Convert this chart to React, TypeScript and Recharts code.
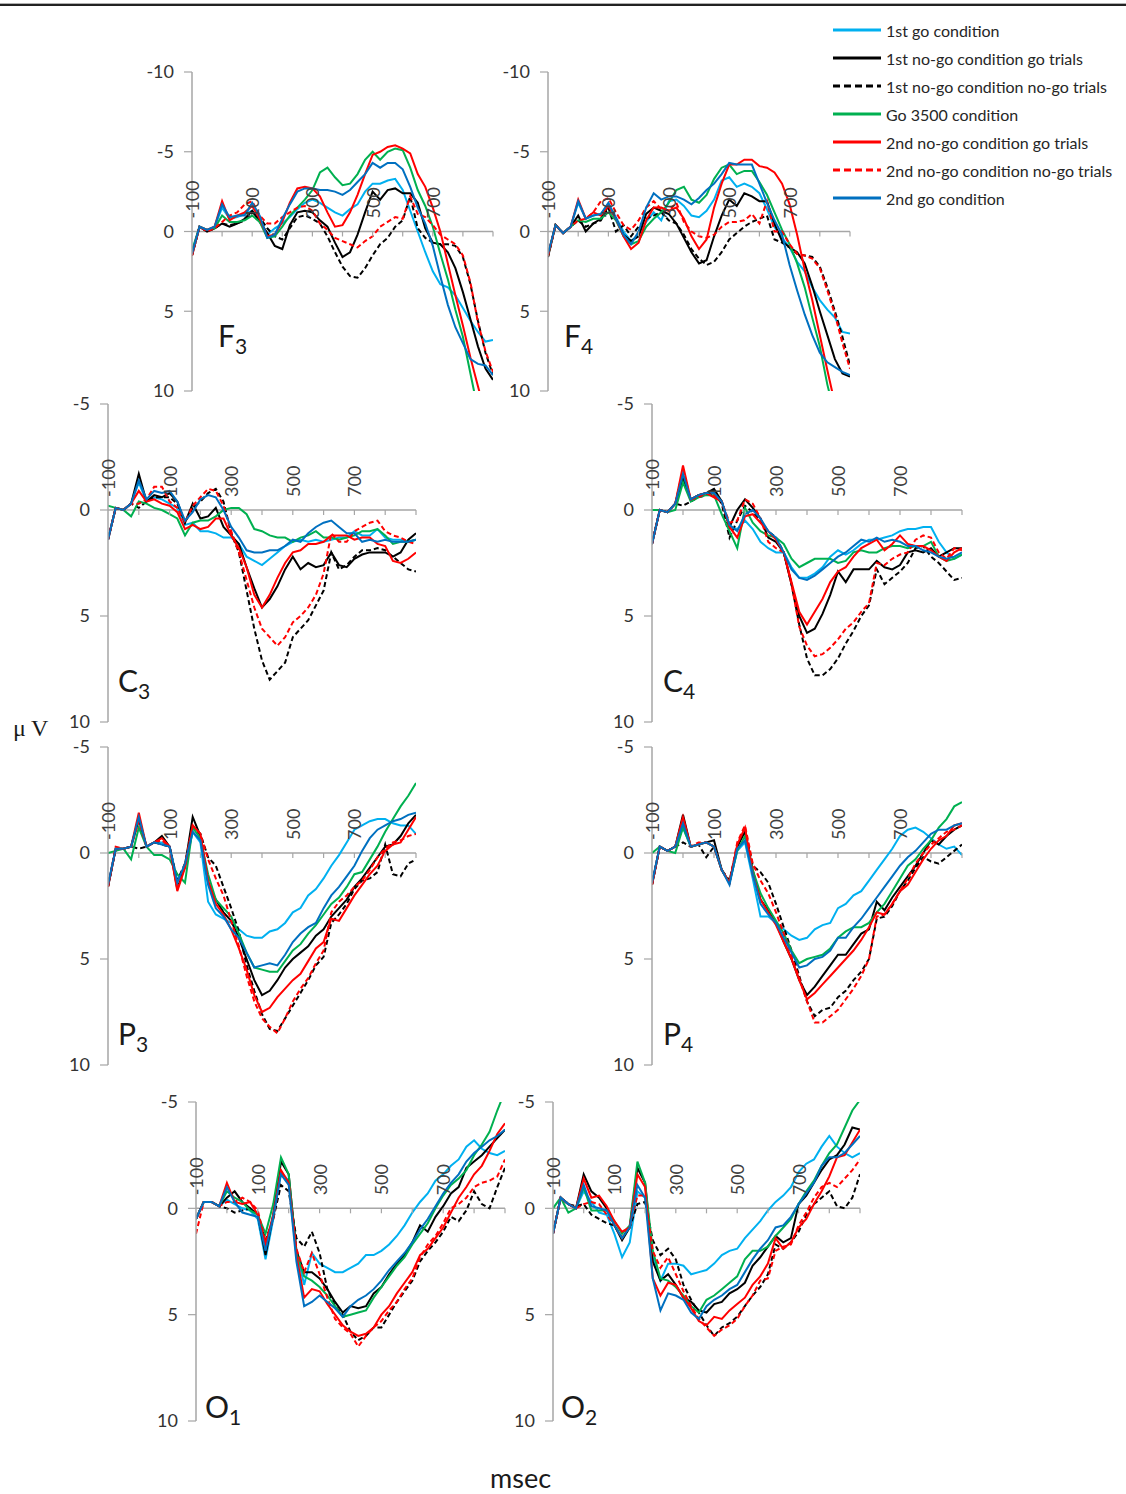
import React from 'react';
import { LineChart, Line, XAxis, YAxis, ReferenceLine, ReferenceDot } from 'recharts';

// time axis (ms)
const TIMES = [-100,-75,-50,-25,0,25,50,75,100,125,150,175,200,225,250,275,300,325,350,375,400,425,450,475,500,525,550,575,600,625,650,675,700,725,750,775,800,825,850,875,900];
const X_LABELS = [-100, 100, 300, 500, 700];
const X_MINOR = [0, 100, 200, 300, 400, 500, 600, 700, 800, 900];

const SERIES = [
  { key: 'go1', name: '1st go condition', color: '#00B0F0', dash: undefined },
  { key: 'ng1go', name: '1st no-go condition go trials', color: '#000000', dash: undefined },
  { key: 'ng1ng', name: '1st no-go condition no-go trials', color: '#000000', dash: '5 3' },
  { key: 'go3500', name: 'Go 3500 condition', color: '#00B050', dash: undefined },
  { key: 'ng2go', name: '2nd no-go condition go trials', color: '#FF0000', dash: undefined },
  { key: 'ng2ng', name: '2nd no-go condition no-go trials', color: '#FF0000', dash: '5 3' },
  { key: 'go2', name: '2nd go condition', color: '#0070C0', dash: undefined },
];

// ---------- F3 ----------
const F3_GO1 = [1.3,-0.3,-0.1,-0.3,-1.5,-0.8,-0.9,-1.1,-1.3,-0.8,0.2,-0.2,-0.5,-0.9,-1.4, -1.8,-2.0,-1.8,-1.5,-1.2,-1.0,-1.4,-1.7,-2.5,-3.0,-3.0,-3.2,-3.3, -2.6,-1.3,0.0,1.3,2.5,3.3,3.5,4.0,4.8,5.6,6.3,6.9,6.8];
const F3_NG1GO = [1.5,-0.3,0.0,-0.2,-0.5,-0.3,-0.5,-0.8,-1.3,-0.6,0.1,0.9,1.1,-0.4,-1.2, -1.3,-1.2,-0.7,-0.3,0.7,1.6,1.3,0.2,-1.2,-2.5,-2.0,-2.6,-2.7, -2.4,-2.4,-1.8,-0.2,0.7,0.8,1.3,2.3,3.8,5.5,7.2,8.6,9.3];
const F3_NG1NG = [1.5,-0.3,0.0,-0.2,-0.5,-0.4,-0.5,-0.7,-1.2,-0.9,-0.2,0.3,0.5,-0.2,-0.9, -1.0,-0.8,-0.5,0.3,1.3,2.2,2.8,2.9,2.3,1.5,0.8,0.4,-0.3, -0.7,-2.2,-0.2,0.4,0.7,0.8,0.8,0.9,1.6,3.3,5.6,7.6,9.0];
const F3_GO3500 = [1.2,-0.3,-0.1,-0.2,-1.0,-0.6,-0.6,-0.7,-1.0,-0.6,0.4,0.3,-0.3,-1.0,-1.5, -2.0,-2.6,-3.7,-4.0,-3.4,-2.9,-3.0,-3.6,-4.5,-5.0,-4.5,-5.0,-5.2, -5.1,-4.0,-2.6,-1.6,-0.3,1.4,3.0,4.9,6.6,8.9,11.2,null,null];
const F3_NG2GO = [1.5,-0.3,-0.1,-0.3,-1.9,-0.7,-1.0,-1.2,-1.6,-0.8,0.3,0.2,-0.6,-1.8,-2.7, -2.8,-2.7,-2.2,-1.2,-0.3,-0.4,-1.2,-2.3,-3.6,-4.8,-5.0,-5.3,-5.4, -5.2,-4.9,-3.6,-2.8,-1.5,0.0,2.0,4.0,5.9,7.9,9.7,11.5,null];
const F3_NG2NG = [1.5,-0.3,0.0,-0.2,-0.6,-1.0,-1.2,-1.7,-1.9,-1.0,-0.5,-0.5,-0.9,-1.2,-1.5, -1.6,-1.3,-0.5,-0.1,0.4,0.6,0.8,1.0,0.6,0.3,-0.3,-0.6,-0.9, -0.8,-2.2,-1.1,-0.9,-0.4,0.2,0.5,0.8,1.5,3.2,5.7,7.5,8.8];
const F3_GO2 = [1.4,-0.3,-0.1,-0.3,-1.7,-0.9,-1.0,-1.0,-1.8,-1.0,0.4,0.2,-0.8,-1.7,-2.5, -2.7,-2.7,-2.6,-2.6,-2.5,-2.3,-2.6,-3.1,-3.6,-4.3,-4.0,-4.3,-4.3, -3.9,-2.8,-1.5,-0.5,0.9,2.8,4.6,6.0,7.0,8.0,8.3,8.4,9.0];

// ---------- F4 ----------
const F4_GO1 = [1.5,-0.4,0.1,-0.3,-1.8,-0.8,-1.0,-1.1,-1.7,-0.9,0.0,0.6,0.2,-0.6,-1.2, -0.7,-1.9,-2.0,-1.6,-1.0,-0.9,-1.3,-2.0,-3.2,-3.4,-2.8,-3.0,-2.8, -2.4,-1.4,-0.3,0.4,1.0,1.9,2.5,3.5,4.3,4.9,5.4,6.3,6.4];
const F4_NG1GO = [1.6,-0.4,0.1,-0.3,-1.0,0.0,-0.5,-0.8,-1.6,-0.8,0.2,0.6,0.3,-1.1,-1.5, -1.3,-1.1,-0.5,0.4,1.3,2.0,1.8,0.3,-1.0,-2.0,-1.6,-2.4,-2.2, -1.9,-1.9,-0.5,0.6,1.0,1.3,2.0,3.4,5.0,6.5,8.0,8.9,9.1];
const F4_NG1NG = [1.6,-0.4,0.1,-0.3,-0.7,-0.3,-0.5,-0.7,-1.5,0.0,-0.4,0.3,-0.3,-0.8,-1.0, -1.2,-0.7,-0.5,0.2,1.1,1.7,2.1,1.9,1.3,0.5,0.1,-0.3,-0.6, -0.8,-1.0,0.5,0.7,1.0,1.4,1.5,1.6,2.2,3.5,5.0,6.6,8.4];
const F4_GO3500 = [1.5,-0.4,0.1,-0.3,-0.7,-0.6,-0.8,-0.8,-1.2,-0.7,0.3,0.8,0.6,-0.3,-0.8, -1.2,-1.8,-2.6,-2.8,-2.0,-1.8,-2.3,-3.3,-4.0,-4.2,-3.6,-3.8,-3.8, -3.1,-2.3,-1.2,-0.1,0.8,2.0,3.5,5.4,7.2,9.6,11.5,null,null];
const F4_NG2GO = [1.5,-0.4,0.1,-0.3,-2.0,-0.8,-1.2,-1.0,-1.6,-0.8,0.3,1.1,0.7,-0.7,-1.5, -1.5,-1.3,-1.5,-0.8,0.3,1.1,0.5,-1.5,-3.0,-4.2,-4.2,-4.5,-4.5, -4.1,-4.0,-3.7,-3.0,-1.7,0.2,2.4,4.3,6.5,8.7,10.8,null,null];
const F4_NG2NG = [1.5,-0.4,0.1,-0.3,-0.7,-0.8,-1.2,-1.9,-2.1,-1.2,-0.4,-0.1,-0.7,-1.5,-1.9, -1.4,-1.3,-1.8,-0.6,0.0,0.3,0.4,0.2,-0.3,-0.6,-0.6,-0.7,-1.1, -0.5,-1.9,0.0,0.0,0.8,1.4,1.5,1.7,2.3,3.7,5.2,7.0,8.6];
const F4_GO2 = [1.4,-0.4,0.1,-0.3,-1.9,-0.8,-1.0,-1.1,-1.8,-0.8,0.2,0.8,0.0,-1.5,-2.4, -2.0,-2.2,-2.2,-2.0,-1.7,-2.1,-2.6,-3.0,-3.6,-4.3,-4.2,-4.2,-4.2, -3.0,-1.8,-0.7,0.2,2.1,3.7,5.2,6.5,7.6,8.2,8.5,8.8,9.0];

// ---------- C3 ----------
const C3_GO1 = [1.4,-0.1,0.0,-0.3,-1.3,-0.4,-0.6,-0.5,-0.3,-0.1,0.7,0.6,1.0,1.0,1.1, 1.3,1.3,1.6,2.2,2.4,2.6,2.3,2.0,1.7,1.5,1.4,1.5,1.4, 1.5,1.4,1.3,1.3,1.0,1.2,1.2,0.9,1.3,1.4,1.4,1.5,1.4];
const C3_NG1GO = [1.4,-0.1,0.0,-0.3,-1.7,-0.4,-0.7,-0.6,-0.8,-0.4,0.6,-0.3,0.4,0.3,-0.1, 0.8,1.2,1.6,2.7,3.7,4.6,4.2,3.6,2.8,2.2,2.8,2.5,2.7, 2.6,2.0,2.6,2.7,2.3,2.1,2.0,2.0,2.0,2.2,2.0,1.4,1.1];
const C3_NG1NG = [1.4,-0.1,0.0,-0.3,-0.1,-0.4,-0.6,-0.6,-0.6,-0.3,0.6,-0.1,-0.4,-0.8,-1.0, -0.4,1.1,2.0,3.8,5.6,7.1,8.0,7.6,7.2,6.0,5.6,5.2,4.5, 3.8,2.0,2.8,2.6,2.2,1.9,1.9,1.8,1.9,2.2,2.5,2.8,2.9];
const C3_GO3500 = [-0.2,-0.1,0.0,0.3,-0.4,-0.3,-0.1,0.0,0.2,0.4,1.2,0.6,0.5,0.5,0.3, 0.0,-0.1,-0.1,0.2,0.9,1.0,1.2,1.3,1.3,1.5,1.3,1.2,1.0, 1.3,1.3,1.4,1.3,1.2,1.0,1.0,0.9,1.2,1.6,1.5,1.5,1.4];
const C3_NG2GO = [1.4,-0.1,0.0,-0.3,-0.9,-0.4,-0.5,-0.3,-0.2,0.1,0.9,0.7,0.9,0.8,0.4, 0.4,1.2,1.8,2.7,4.0,4.6,4.0,3.2,2.5,2.0,1.9,1.6,1.6, 1.5,1.2,1.2,1.2,1.4,1.3,1.3,1.6,1.7,2.4,2.5,2.3,2.0];
const C3_NG2NG = [1.4,-0.1,0.0,-0.3,-0.3,-0.5,-1.1,-1.1,-0.4,-0.1,0.6,-0.2,-0.6,-1.0,-0.9, -0.2,1.0,2.0,3.3,4.6,5.6,6.0,6.4,6.0,5.3,5.0,4.6,4.0, 3.0,1.1,1.5,1.5,1.0,0.8,0.6,0.5,1.0,1.2,1.3,1.5,1.6];
const C3_GO2 = [1.4,-0.1,0.0,-0.3,-1.4,-0.5,-0.9,-0.8,-0.9,-0.4,0.5,0.1,-0.5,-0.7,-0.6, 0.0,0.8,1.3,1.9,2.0,2.0,1.9,1.9,1.7,1.4,1.5,1.1,0.8, 0.6,0.5,0.8,1.1,1.1,1.5,1.4,1.5,1.4,1.5,1.5,1.5,1.4];

// ---------- C4 ----------
const C4_GO1 = [1.6,0.0,0.1,-0.3,-1.5,-0.5,-0.7,-0.8,-0.8,-0.4,0.8,0.9,0.5,0.9,1.5, 1.8,2.0,2.0,2.7,3.2,3.2,3.0,2.7,2.2,1.9,2.1,1.9,1.6, 1.4,1.4,1.3,1.2,1.0,0.9,0.9,0.8,0.8,1.5,2.0,2.3,2.1];
const C4_NG1GO = [1.6,0.0,0.1,-0.3,-1.5,-0.5,-0.7,-0.8,-1.0,-0.4,0.8,0.0,-0.5,-0.1,0.4, 1.3,1.5,2.0,3.5,5.0,5.8,5.6,4.9,4.0,2.9,3.4,2.8,2.8, 2.8,2.4,2.7,2.8,2.6,2.0,1.9,2.0,1.8,2.2,2.0,1.8,1.8];
const C4_NG1NG = [1.6,0.0,0.1,-0.3,-0.2,-0.4,-0.6,-0.7,-0.8,-0.3,1.3,0.5,-0.2,0.1,0.5, 1.0,1.3,2.0,3.5,5.4,7.0,7.8,7.8,7.5,7.0,6.3,5.7,5.0, 4.5,2.8,3.5,3.2,2.9,2.5,1.8,1.7,2.2,2.5,2.9,3.3,3.2];
const C4_GO3500 = [0.0,0.0,0.1,0.0,-1.3,-0.4,-0.6,-0.7,-0.7,0.2,1.0,1.8,-0.1,0.6,1.0, 1.2,1.3,1.6,2.3,2.7,2.5,2.3,2.3,2.3,2.5,2.4,2.0,1.9, 2.0,2.0,1.8,1.7,1.7,1.8,1.7,1.7,1.5,2.2,2.4,2.3,2.1];
const C4_NG2GO = [1.6,0.0,0.1,-0.3,-2.1,-0.5,-0.7,-0.8,-0.6,-0.4,0.8,1.3,0.3,0.2,0.6, 1.0,1.4,2.0,3.4,4.8,5.4,4.8,4.2,3.4,2.9,2.7,2.2,1.8, 1.6,1.4,1.9,1.6,1.2,1.6,1.7,1.7,1.9,2.2,2.4,2.0,1.8];
const C4_NG2NG = [1.6,0.0,0.1,-0.3,-1.9,-0.5,-0.6,-0.8,-0.7,-0.4,0.6,0.5,-0.5,-0.3,0.4, 1.5,1.8,2.0,3.5,5.5,6.4,6.9,6.8,6.5,6.1,5.6,5.3,4.8, 4.4,2.5,2.6,2.3,2.1,2.0,1.4,1.2,1.3,2.0,2.3,1.8,1.9];
const C4_GO2 = [1.6,0.0,0.1,-0.3,-1.7,-0.5,-0.7,-0.8,-0.8,-0.4,0.7,1.0,0.2,0.0,0.4, 1.0,1.3,2.0,2.8,3.2,3.3,3.1,2.8,2.5,2.2,2.0,1.7,1.4, 1.5,1.3,1.5,1.4,1.5,1.7,1.7,1.9,2.0,2.2,2.3,2.2,2.0];

// ---------- P3 ----------
const P3_GO1 = [1.6,-0.2,-0.2,-0.3,-1.6,-0.3,-0.5,-0.5,-0.3,1.3,0.7,-1.0,-0.5,2.3,2.9, 3.1,3.3,3.6,3.9,4.0,4.0,3.7,3.6,3.3,2.8,2.6,2.0,1.7, 1.2,0.6,0.1,-0.5,-1.1,-1.3,-1.5,-1.6,-1.6,-1.4,-1.3,-1.3,-0.9];
const P3_NG1GO = [1.6,-0.2,-0.2,-0.3,-1.6,-0.3,-0.5,-0.8,-0.3,1.7,0.6,-1.7,-0.8,1.4,2.2, 2.8,3.2,4.0,5.0,6.0,6.7,6.5,6.0,5.4,5.0,4.7,4.4,3.9, 3.6,3.0,2.6,2.2,1.6,1.2,0.7,0.2,-0.3,-0.4,-0.8,-1.4,-1.8];
const P3_NG1NG = [1.6,-0.2,-0.2,-0.3,-0.2,-0.3,-0.5,-0.4,-0.3,1.3,0.5,-1.2,-0.9,0.2,0.6, 1.6,2.6,3.7,5.3,6.5,7.6,8.3,8.4,7.8,7.2,6.6,6.0,5.3, 4.9,3.3,2.9,2.4,1.7,1.3,1.2,0.9,-0.4,1.0,1.1,0.5,0.3];
const P3_GO3500 = [0.0,-0.1,-0.2,0.3,-1.2,-0.3,0.1,0.1,0.3,1.0,1.4,-1.2,-0.7,1.0,2.2, 2.6,3.0,3.8,4.7,5.4,5.5,5.6,5.6,5.1,4.6,4.3,3.8,3.4, 2.9,2.4,2.1,1.6,1.0,0.9,0.3,-0.3,-1.0,-1.6,-2.2,-2.7,-3.3];
const P3_NG2GO = [1.6,-0.2,-0.2,-0.3,-1.9,-0.3,-0.5,-0.7,-0.3,1.8,0.7,-1.3,-0.9,1.3,2.4, 2.9,3.6,4.5,5.5,6.7,7.5,7.3,6.8,6.4,6.0,5.7,5.1,4.5, 4.2,3.1,3.2,2.6,2.0,1.5,1.0,0.6,-0.1,-0.4,-0.5,-1.1,-1.7];
const P3_NG2NG = [1.6,-0.3,-0.2,-0.3,-1.5,-0.3,-0.5,-0.6,-0.3,1.6,0.5,-1.3,-0.9,0.3,1.2, 2.0,3.2,4.4,5.8,7.0,7.8,8.2,8.5,7.8,7.0,6.4,5.9,5.2, 4.6,2.8,2.3,2.0,1.6,1.3,0.8,0.2,-0.2,-0.5,-0.6,-0.8,-0.9];
const P3_GO2 = [1.5,-0.2,-0.2,-0.3,-1.7,-0.3,-0.5,-0.4,-0.3,1.4,0.5,-1.0,-0.6,1.5,2.6, 3.0,3.6,4.0,4.7,5.4,5.3,5.2,5.3,4.8,4.2,3.8,3.5,3.3, 2.6,2.0,1.6,1.1,0.6,-0.1,-0.7,-1.1,-1.3,-1.5,-1.6,-1.8,-1.9];

// ---------- P4 ----------
const P4_GO1 = [1.5,-0.3,-0.1,-0.3,-1.2,-0.3,-0.4,-0.5,-0.3,0.8,1.4,-0.1,-0.5,1.2,3.0, 3.0,3.3,3.6,3.9,4.1,4.0,3.6,3.4,3.3,2.6,2.4,2.0,1.8, 1.3,0.8,0.3,-0.2,-0.8,-1.1,-1.2,-1.0,-0.7,-0.4,-0.2,-0.3,0.1];
const P4_NG1GO = [1.5,-0.3,-0.1,-0.3,-1.8,-0.3,-0.4,-0.5,-0.6,0.8,1.4,-0.3,-1.0,0.8,2.2, 2.7,3.3,4.2,5.0,6.0,6.7,6.3,5.8,5.3,4.8,4.8,4.3,3.8, 3.6,2.3,2.7,2.1,1.6,1.1,0.6,0.0,-0.6,-0.4,-0.8,-1.1,-1.3];
const P4_NG1NG = [1.5,-0.3,-0.1,-0.3,-0.5,-0.3,-0.4,0.2,-0.3,0.8,1.3,-0.3,-1.1,0.6,0.9, 1.4,2.4,3.5,4.6,5.8,7.0,7.7,7.4,7.3,6.8,6.5,6.0,5.6, 5.0,3.1,3.0,2.5,1.8,1.3,0.7,0.2,0.4,0.5,0.2,-0.1,-0.4];
const P4_GO3500 = [0.0,-0.3,-0.1,0.0,-1.2,-0.3,-0.4,-0.5,-0.3,0.8,1.4,-0.1,-0.8,0.8,1.9, 2.6,3.2,3.8,4.6,5.2,5.0,4.9,4.8,4.5,4.0,3.7,3.5,3.5, 3.3,2.8,2.4,1.8,1.2,0.6,0.3,-0.2,-0.6,-1.2,-1.6,-2.2,-2.4];
const P4_NG2GO = [1.5,-0.3,-0.1,-0.3,-1.7,-0.3,-0.4,-0.5,-0.3,0.8,1.4,-0.4,-1.2,1.0,2.2, 2.8,3.4,4.2,5.0,6.0,6.9,6.6,6.2,5.8,5.4,5.0,4.6,4.1, 3.5,2.8,2.9,2.4,1.8,1.5,0.9,0.3,-0.2,-0.6,-0.8,-1.3,-1.4];
const P4_NG2NG = [1.5,-0.3,-0.1,-0.3,-1.6,-0.3,-0.5,-0.5,-0.3,0.8,1.4,-0.5,-1.3,0.5,1.3, 1.9,2.8,3.8,4.9,5.9,7.0,8.0,8.0,7.7,7.4,6.9,6.4,5.8, 5.0,3.0,2.9,2.4,1.8,1.2,0.5,0.0,-0.4,-0.7,-1.0,-1.1,-1.3];
const P4_GO2 = [1.4,-0.3,-0.1,-0.3,-1.4,-0.3,-0.4,-0.5,-0.3,0.8,1.5,-0.2,-0.6,1.0,2.4, 2.9,3.3,4.0,4.7,5.4,5.3,5.0,4.9,4.6,4.0,4.0,3.5,3.1, 2.6,2.1,1.6,1.1,0.6,0.2,-0.1,-0.5,-0.9,-1.1,-1.1,-1.3,-1.4];

// ---------- O1 ----------
const O1_GO1 = [0.5,-0.3,-0.3,-0.1,-0.4,-0.2,0.0,0.1,0.5,2.4,0.5,-1.7,-1.3,2.0,3.6, 2.1,2.6,2.8,3.0,3.0,2.8,2.6,2.2,2.2,2.0,1.7,1.3,0.8, 0.2,-0.3,-0.7,-1.3,-1.6,-2.0,-2.3,-2.9,-3.2,-2.8,-2.6,-2.5,-2.7];
const O1_NG1GO = [0.5,-0.3,-0.3,-0.1,-0.5,-0.8,-0.3,0.0,0.3,2.2,0.3,-2.2,-1.6,2.0,3.0, 3.0,3.3,3.8,4.4,4.9,4.6,4.7,4.6,4.0,3.7,3.1,2.6,2.2, 1.6,0.8,1.1,0.4,-0.1,-0.7,-1.0,-1.9,-2.2,-2.5,-2.9,-3.3,-3.7];
const O1_NG1NG = [0.5,-0.3,-0.3,-0.1,0.0,0.2,0.1,0.0,0.3,1.5,0.5,-1.1,-0.8,1.4,1.8, 1.1,2.1,3.8,4.6,5.0,5.8,6.2,6.0,5.6,5.6,5.0,4.4,3.9, 3.4,2.5,2.0,1.6,1.1,0.4,0.6,0.1,-0.8,-0.2,0.0,-1.0,-1.9];
const O1_GO3500 = [0.5,-0.3,-0.3,-0.1,-0.8,-0.5,-0.3,0.1,0.3,1.2,-0.2,-2.4,-1.6,2.1,3.2, 3.4,3.7,4.1,4.6,5.1,5.0,4.9,4.8,4.2,3.7,3.2,2.7,2.3, 1.7,1.2,0.7,0.0,-0.6,-1.1,-1.4,-1.8,-2.5,-3.0,-3.6,-4.6,-5.5];
const O1_NG2GO = [0.5,-0.3,-0.3,-0.1,-1.2,-0.3,-0.2,-0.3,0.3,1.7,0.3,-1.8,-1.2,2.2,4.2, 3.8,3.9,4.5,5.0,5.5,5.8,6.0,5.9,5.6,5.0,4.6,4.0,3.5, 3.0,2.2,1.9,1.4,0.9,0.2,-0.5,-1.0,-1.6,-2.0,-2.7,-3.5,-4.0];
const O1_NG2NG = [1.2,-0.3,-0.3,-0.1,-0.3,-0.3,-0.5,-0.3,0.1,1.6,0.5,-1.7,-1.2,1.9,3.0, 2.1,3.1,4.2,5.2,5.6,5.9,6.5,6.0,5.6,5.3,4.8,4.4,3.8, 3.3,2.3,1.7,1.3,0.7,0.0,-0.2,-0.5,-1.0,-1.2,-1.3,-1.5,-2.3];
const O1_GO2 = [0.5,-0.3,-0.3,-0.1,-1.0,-0.3,0.2,0.3,0.4,2.0,0.4,-1.6,-1.1,2.5,4.6, 4.4,4.1,4.4,4.7,5.1,4.6,4.3,4.1,3.8,3.4,2.9,2.5,2.1, 1.6,1.0,0.5,-0.1,-0.7,-1.2,-1.6,-2.2,-2.6,-2.9,-3.2,-3.4,-3.7];

// ---------- O2 ----------
const O2_GO1 = [1.2,-0.5,-0.2,0.0,-0.8,-0.3,0.2,0.3,1.2,2.3,1.6,-0.8,-0.5,2.3,3.4, 2.6,2.6,2.7,3.1,3.0,2.9,2.6,2.2,2.0,1.9,1.4,1.0,0.6, 0.1,-0.3,-0.6,-1.0,-1.7,-2.1,-2.3,-2.9,-3.4,-2.9,-2.6,-2.4,-2.6];
const O2_NG1GO = [1.2,-0.5,-0.2,0.0,-1.6,-0.8,-0.5,0.0,0.8,1.5,0.9,-1.9,-1.2,2.5,3.4, 3.1,3.6,4.2,4.4,4.8,4.9,4.5,4.4,4.0,3.8,3.5,2.7,2.3, 1.8,1.3,1.6,1.4,-0.2,-0.6,-1.2,-1.8,-2.3,-2.5,-3.0,-3.8,-3.7];
const O2_NG1NG = [1.2,-0.5,-0.2,-0.1,-0.2,0.3,0.5,0.7,0.8,1.4,0.9,-0.2,-0.3,1.5,2.2, 1.9,2.4,3.6,4.3,4.9,5.5,6.0,5.6,5.4,5.1,4.6,4.1,3.7, 3.1,1.7,1.9,1.6,1.1,0.3,-0.2,-0.5,-0.8,-0.1,0.0,-0.5,-1.6];
const O2_GO3500 = [0.0,-0.5,0.2,0.0,-1.0,0.1,0.1,0.1,0.6,1.2,0.8,-2.2,-1.2,2.0,3.3, 3.4,3.7,4.1,4.6,4.9,4.3,4.1,3.8,3.5,3.2,2.4,2.0,2.0, 1.8,1.3,0.9,0.5,-0.2,-0.8,-1.3,-2.0,-2.6,-3.0,-3.8,-4.6,-5.1];
const O2_NG2GO = [1.2,-0.5,-0.2,0.0,-1.4,-0.5,-0.6,-0.1,0.6,1.1,0.9,-1.6,-1.0,3.3,4.1, 3.5,3.6,4.2,4.7,5.3,5.5,5.1,5.2,4.8,4.5,4.2,3.6,3.2, 2.6,1.4,1.9,1.6,0.9,0.5,-0.2,-0.8,-1.5,-2.4,-2.5,-3.1,-3.7];
const O2_NG2NG = [1.2,-0.5,-0.2,0.0,-0.2,-0.3,-0.2,0.3,0.8,1.4,0.8,-0.6,-0.6,2.0,2.8, 2.3,3.1,3.9,4.6,5.2,5.6,6.0,5.7,5.5,5.2,4.6,4.1,3.4, 3.3,2.0,1.8,1.7,0.8,0.2,-0.5,-1.0,-1.2,-1.0,-1.4,-1.8,-2.3];
const O2_GO2 = [1.2,-0.5,-0.2,0.0,-1.1,-0.1,0.0,0.1,0.8,1.4,0.9,-1.1,-0.5,3.3,4.8, 4.0,4.1,4.3,4.9,5.2,4.6,4.3,4.1,3.8,3.6,3.0,2.4,1.9, 1.5,0.9,0.8,0.4,-0.2,-0.7,-1.2,-2.0,-2.4,-2.4,-2.6,-3.0,-3.4];

const TICKS_F = [-10, -5, 0, 5, 10];
const TICKS_OTHER = [-5, 0, 5, 10];

const PANELS = [
  { id: 'F3', letter: 'F', sub: '3', yMin: -10, ticks: TICKS_F, series: [F3_GO1, F3_NG1GO, F3_NG1NG, F3_GO3500, F3_NG2GO, F3_NG2NG, F3_GO2], left: 192, top: 72, w: 301, h: 319, lx: 218, ly: 347 },
  { id: 'F4', letter: 'F', sub: '4', yMin: -10, ticks: TICKS_F, series: [F4_GO1, F4_NG1GO, F4_NG1NG, F4_GO3500, F4_NG2GO, F4_NG2NG, F4_GO2], left: 548, top: 72, w: 302, h: 319, lx: 564, ly: 347 },
  { id: 'C3', letter: 'C', sub: '3', yMin: -5, ticks: TICKS_OTHER, series: [C3_GO1, C3_NG1GO, C3_NG1NG, C3_GO3500, C3_NG2GO, C3_NG2NG, C3_GO2], left: 108, top: 404, w: 308, h: 318, lx: 118, ly: 692 },
  { id: 'C4', letter: 'C', sub: '4', yMin: -5, ticks: TICKS_OTHER, series: [C4_GO1, C4_NG1GO, C4_NG1NG, C4_GO3500, C4_NG2GO, C4_NG2NG, C4_GO2], left: 652, top: 404, w: 310, h: 318, lx: 663, ly: 692 },
  { id: 'P3', letter: 'P', sub: '3', yMin: -5, ticks: TICKS_OTHER, series: [P3_GO1, P3_NG1GO, P3_NG1NG, P3_GO3500, P3_NG2GO, P3_NG2NG, P3_GO2], left: 108, top: 747, w: 308, h: 318, lx: 118, ly: 1045 },
  { id: 'P4', letter: 'P', sub: '4', yMin: -5, ticks: TICKS_OTHER, series: [P4_GO1, P4_NG1GO, P4_NG1NG, P4_GO3500, P4_NG2GO, P4_NG2NG, P4_GO2], left: 652, top: 747, w: 310, h: 318, lx: 663, ly: 1045 },
  { id: 'O1', letter: 'O', sub: '1', yMin: -5, ticks: TICKS_OTHER, series: [O1_GO1, O1_NG1GO, O1_NG1NG, O1_GO3500, O1_NG2GO, O1_NG2NG, O1_GO2], left: 196, top: 1102, w: 309, h: 319, lx: 205, ly: 1418 },
  { id: 'O2', letter: 'O', sub: '2', yMin: -5, ticks: TICKS_OTHER, series: [O2_GO1, O2_NG1GO, O2_NG1NG, O2_GO3500, O2_NG2GO, O2_NG2NG, O2_GO2], left: 553, top: 1102, w: 307, h: 319, lx: 561, ly: 1418 },
];

const AXIS_GREY = '#a6a6a6';
const FONT = 'Lato, "Open Sans", sans-serif';
const ML = 50, MT = 20, MR = 10, MB = 20;

const minorTick = (props: any) => (
  <line x1={props.cx} y1={props.cy} x2={props.cx} y2={props.cy + 5} stroke={AXIS_GREY} strokeWidth={1.2} />
);

const makeLabel = (t: number) => (props: any) => (
  <text
    x={props.cx}
    y={props.cy - 13}
    transform={`rotate(-90 ${props.cx} ${props.cy - 13})`}
    textAnchor="start"
    dominantBaseline="central"
    fontFamily={FONT}
    fontSize={18}
    fill="#404040"
  >
    {t}
  </text>
);

function Panel({ p }: { p: any }) {
  const rows = TIMES.map((t, i) => {
    const row: any = { t };
    SERIES.forEach((s, j) => {
      row[s.key] = p.series[j][i];
    });
    return row;
  });
  return (
    <div style={{ position: 'absolute', left: p.left - ML, top: p.top - MT }}>
      <LineChart width={p.w + ML + MR} height={p.h + MT + MB} data={rows} margin={{ top: MT, right: MR, bottom: MB, left: 0 }}>
        <XAxis type="number" dataKey="t" domain={[-100, 900]} hide allowDataOverflow />
        <YAxis
          width={ML}
          reversed
          domain={[p.yMin, 10]}
          ticks={p.ticks}
          interval={0}
          allowDataOverflow
          axisLine={{ stroke: AXIS_GREY, strokeWidth: 1.5 }}
          tickLine={{ stroke: AXIS_GREY, strokeWidth: 1.2 }}
          tickSize={8}
          tickMargin={10}
          tick={{ fill: '#333333', fontSize: 18, fontFamily: FONT }}
        />
        <ReferenceLine y={0} stroke={AXIS_GREY} strokeWidth={1.5} />
        {X_MINOR.map((t) => (
          <ReferenceDot key={'m' + t} x={t} y={0} r={0} shape={minorTick} />
        ))}
        {X_LABELS.map((t) => (
          <ReferenceDot key={'l' + t} x={t} y={0} r={0} shape={makeLabel(t)} />
        ))}
        {SERIES.map((s) => (
          <Line
            key={s.key}
            dataKey={s.key}
            name={s.name}
            stroke={s.color}
            strokeDasharray={s.dash}
            strokeWidth={2}
            dot={false}
            activeDot={false}
            type="linear"
            isAnimationActive={false}
          />
        ))}
      </LineChart>
    </div>
  );
}

function LegendBox() {
  return (
    <div style={{ position: 'absolute', left: 833, top: 16 }}>
      {SERIES.map((s, i) => (
        <div key={s.key} style={{ position: 'absolute', left: 0, top: i * 28, height: 28, width: 300, display: 'flex', alignItems: 'center', whiteSpace: 'nowrap' }}>
          <svg width={48} height={6} style={{ flex: 'none' }}>
            <line x1={0} y1={3} x2={48} y2={3} stroke={s.color} strokeWidth={3} strokeDasharray={s.dash ? '7 4' : undefined} />
          </svg>
          <span style={{ marginLeft: 5, fontFamily: FONT, fontSize: 16, color: '#262626' }}>{s.name}</span>
        </div>
      ))}
    </div>
  );
}

export default function App() {
  return (
    <div style={{ position: 'absolute', left: 0, top: 0, width: 1126, height: 1494, background: '#ffffff', overflow: 'hidden' }}>
      <div style={{ position: 'absolute', left: 0, top: 3, width: 1126, height: 1, background: '#b0b0b0' }} />
      <div style={{ position: 'absolute', left: 0, top: 4, width: 1126, height: 2, background: '#222222' }} />
      {PANELS.map((p) => (
        <Panel key={p.id} p={p} />
      ))}
      <LegendBox />
      <svg width={1126} height={1494} style={{ position: 'absolute', left: 0, top: 0, pointerEvents: 'none' }}>
        {PANELS.map((p) => (
          <text key={'lab' + p.id} x={p.lx} y={p.ly} fontFamily={FONT} fontSize={30} fill="#1a1a1a">
            {p.letter}
            <tspan fontSize={21} dy={7}>{p.sub}</tspan>
          </text>
        ))}
        <text x={13} y={736} fontFamily='"Liberation Serif", "DejaVu Serif", serif' fontSize={24} fill="#1a1a1a">
          <tspan>μ</tspan>
          <tspan x={31}>V</tspan>
        </text>
        <text x={490} y={1488} fontFamily={FONT} fontSize={27} fill="#1a1a1a">msec</text>
      </svg>
    </div>
  );
}
